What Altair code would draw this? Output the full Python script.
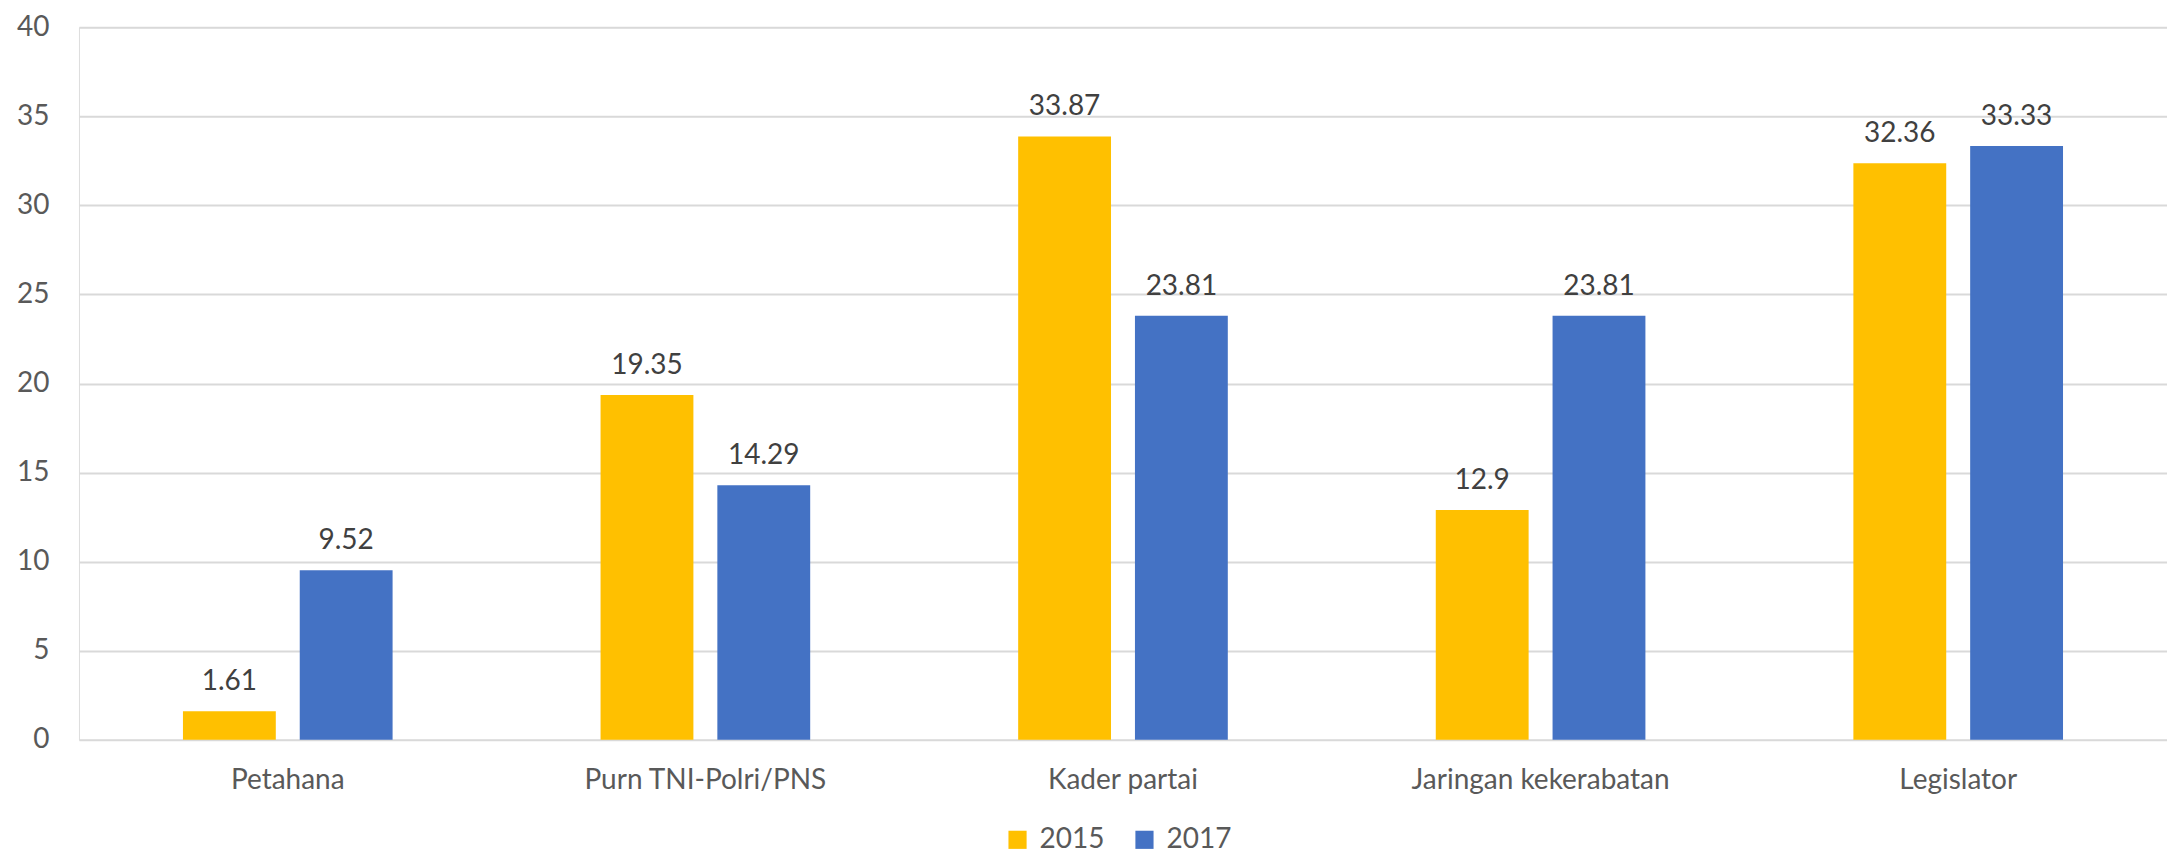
import altair as alt
import pandas as pd

categories = ["Petahana", "Purn TNI-Polri/PNS", "Kader partai", "Jaringan kekerabatan", "Legislator"]
years = ["2015", "2017"]
values_2015 = [1.61, 19.35, 33.87, 12.9, 32.36]
values_2017 = [9.52, 14.29, 23.81, 23.81, 33.33]
y_ticks = [0, 5, 10, 15, 20, 25, 30, 35, 40]
colors = ["#FFC000", "#4472C4"]

rows = []
for c, a, b in zip(categories, values_2015, values_2017):
    rows.append({"cat": c, "year": "2015", "val": a, "lab": f"{a:g}"})
    rows.append({"cat": c, "year": "2017", "val": b, "lab": f"{b:g}"})
df = pd.DataFrame(rows)

FONT = "Lato"

x = alt.X("cat:N", sort=categories, title=None,
          scale=alt.Scale(paddingInner=0.498, paddingOuter=0.249),
          axis=alt.Axis(labelAngle=0, labelFontSize=28, labelColor="#595959", labelFont=FONT,
                        domain=False, ticks=False, labelPadding=27, labelLimit=0))
xo = alt.XOffset("year:N", scale=alt.Scale(paddingInner=0.205, paddingOuter=0))

base = alt.Chart(df).encode(x=x, xOffset=xo)

bars = base.mark_bar().encode(
    y=alt.Y("val:Q", title=None, scale=alt.Scale(domain=[0, 40], nice=False),
            axis=alt.Axis(values=y_ticks, labelFontSize=28, labelColor="#595959", labelFont=FONT,
                          domain=False, ticks=False, labelPadding=30,
                          gridColor="#D9D9D9", gridWidth=2)),
    color=alt.Color("year:N", sort=years, scale=alt.Scale(domain=years, range=colors),
                    legend=alt.Legend(title=None, orient="none", direction="horizontal",
                                      legendX=925, legendY=799, symbolType="square",
                                      symbolSize=330, symbolStrokeWidth=0,
                                      labelFontSize=28, labelColor="#595959", labelFont=FONT,
                                      columnPadding=26, symbolOffset=0, labelOffset=8)),
)

labels = base.mark_text(baseline="bottom", dy=-15, fontSize=28, color="#404040", font=FONT).encode(
    y=alt.Y("val:Q"),
    text=alt.Text("lab:N"),
)

chart = (bars + labels).properties(
    width=2089, height=713,
    autosize=alt.AutoSizeParams(type="none"),
    padding={"left": 71, "top": 19, "right": 0, "bottom": 115},
).configure_view(stroke=None).configure(background="white")

chart.save("out.html", embed_options={"renderer": "svg", "actions": False})
